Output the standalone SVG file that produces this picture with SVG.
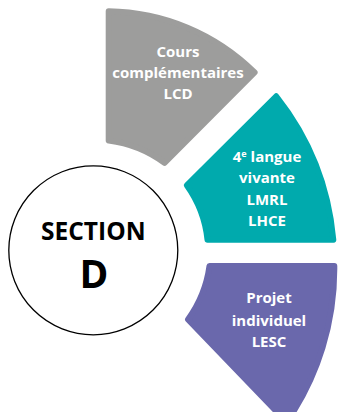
<svg xmlns="http://www.w3.org/2000/svg" width="338" height="412" viewBox="0 0 338 412">
<style>
.seg{stroke-width:6;stroke-linejoin:round}
.gray{fill:#9d9d9c;stroke:#9d9d9c}
.teal{fill:#00aaad;stroke:#00aaad}
.purple{fill:#6a68ac;stroke:#6a68ac}
.lbl{font-family:"Open Sans","DejaVu Sans",sans-serif;font-weight:bold;font-size:15px;fill:#ffffff;text-anchor:middle}
.ctr{font-family:"Open Sans","DejaVu Sans",sans-serif;font-weight:bold;fill:#000000;text-anchor:middle}
</style>
<rect width="338" height="412" fill="#ffffff"/>
<g id="connectors"></g>
<g id="node-lcd">
<path class="seg gray" d="M108.7,11.3 A212,212 0 0 1 254.6,72.5 L164.5,162.8 A120,120 0 0 0 108.7,140.5 Z"/>
<text class="lbl" x="178" y="57.3">Cours</text>
<text class="lbl" x="178" y="78.3">complémentaires</text>
<text class="lbl" x="178" y="99">LCD</text>
</g>
<g id="node-langue">
<path class="seg teal" d="M276.2,96.3 A269.7,269.7 0 0 1 333.3,239.7 L207.5,239.7 A114,114 0 0 0 186.8,185.3 Z"/>
<text class="lbl" x="267" y="161.7">4<tspan font-size="9" dy="-5">e</tspan><tspan dy="5"> langue</tspan></text>
<text class="lbl" x="267" y="183.3">vivante</text>
<text class="lbl" x="267" y="205">LMRL</text>
<text class="lbl" x="267" y="225.7">LHCE</text>
</g>
<g id="node-projet">
<path class="seg purple" d="M209.5,266 L334.3,266 A269.7,269.7 0 0 1 286.6,421.9 L188,319.5 A118,118 0 0 0 209.5,266 Z"/>
<text class="lbl" x="269" y="303.3">Projet</text>
<text class="lbl" x="269" y="325.7">individuel</text>
<text class="lbl" x="269" y="346.7">LESC</text>
</g>
<g id="node-section">
<circle cx="93.3" cy="250.3" r="84.5" fill="#ffffff" stroke="#000000" stroke-width="1.3"/>
<text class="ctr" x="93.3" y="240" font-size="24.5">SECTION</text>
<text class="ctr" x="94" y="288" font-size="39">D</text>
</g>
</svg>
